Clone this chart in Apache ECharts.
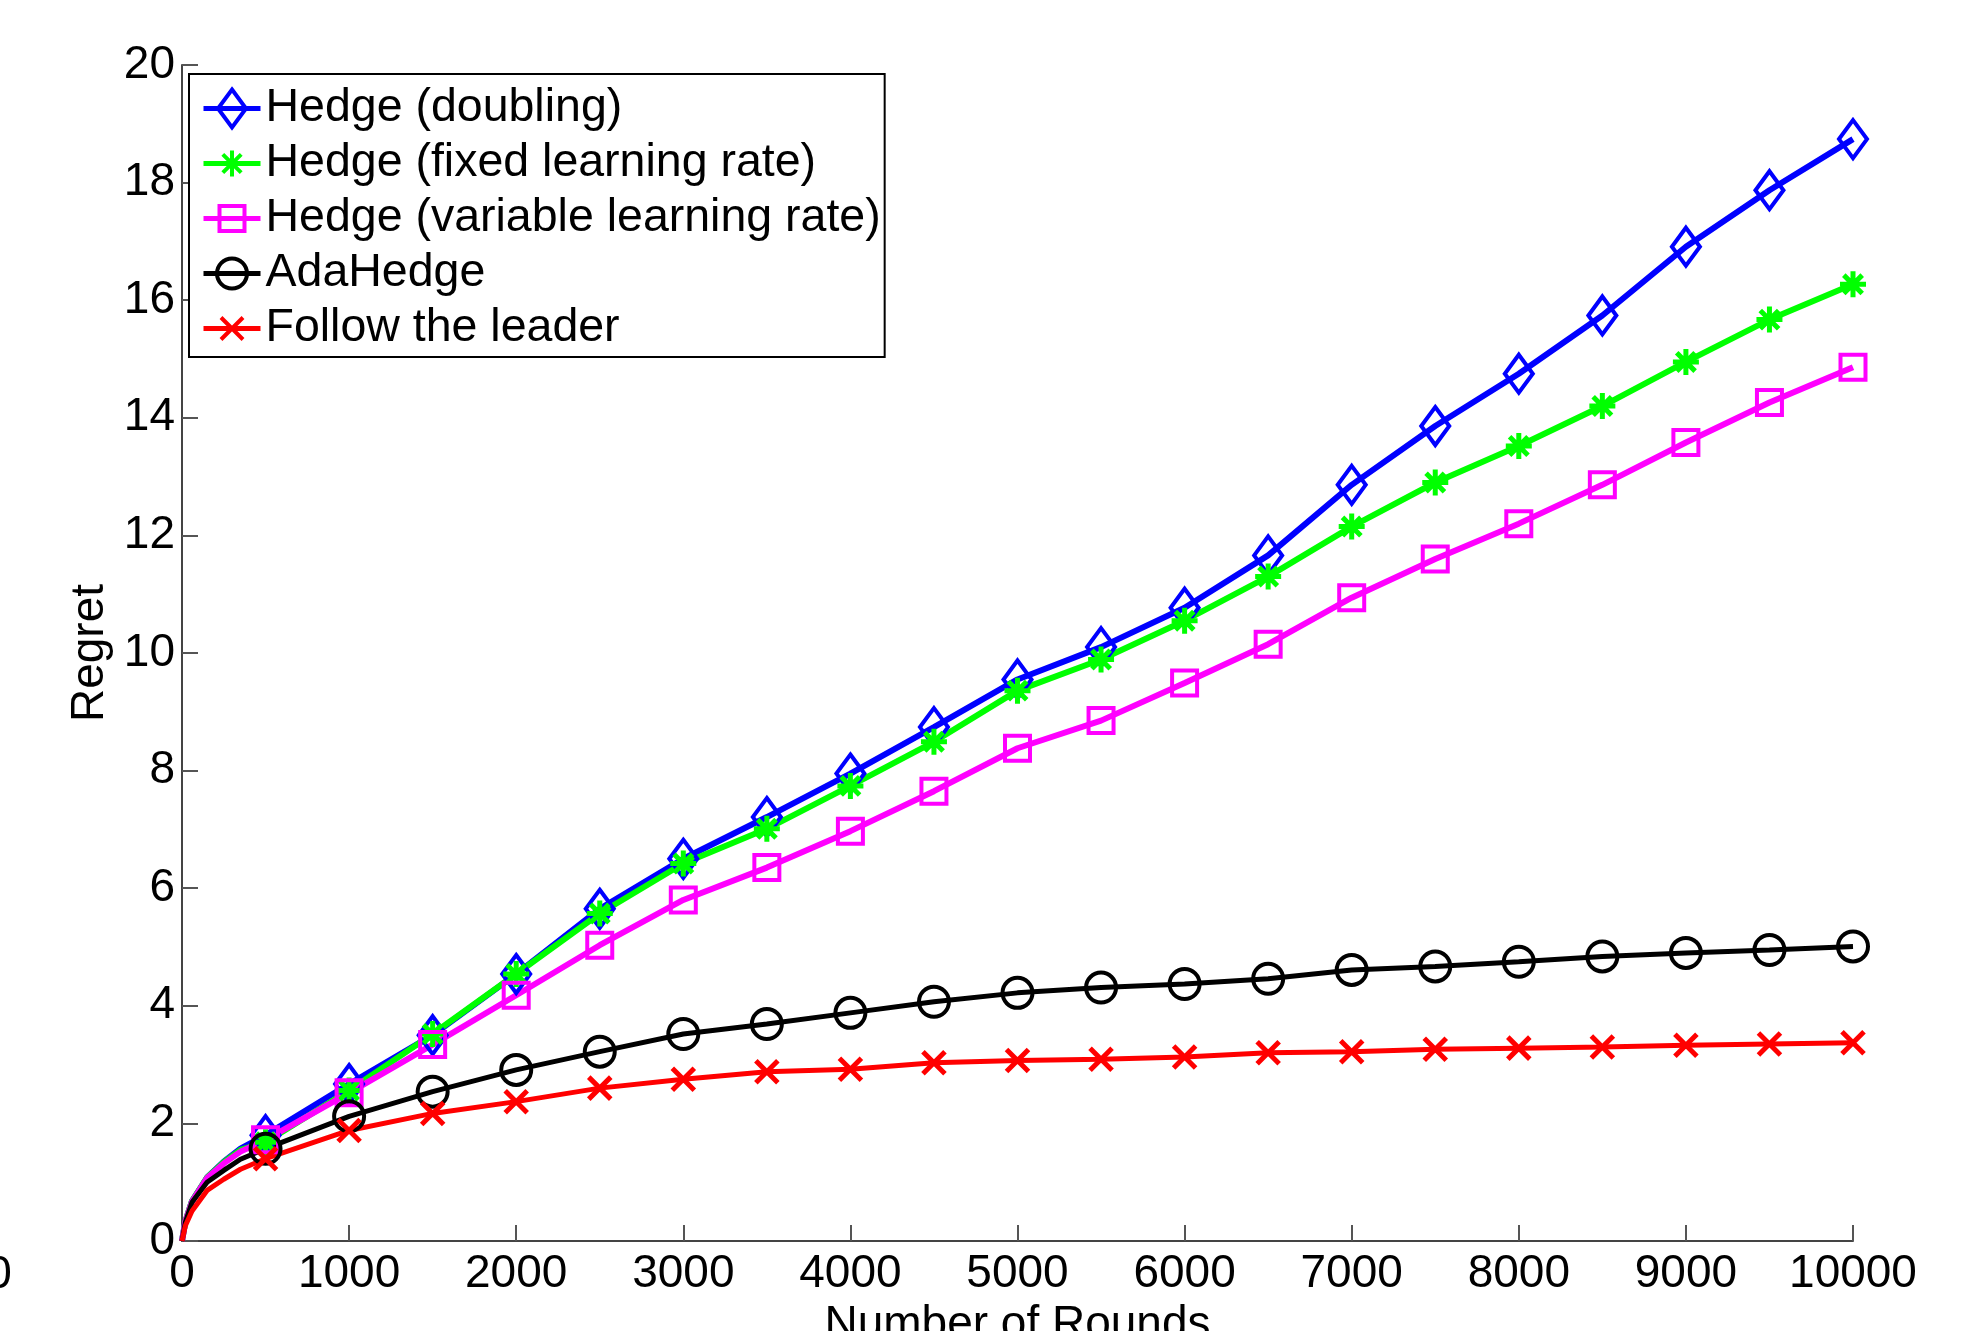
<!DOCTYPE html>
<html>
<head>
<meta charset="utf-8">
<script src="https://cdn.jsdelivr.net/npm/echarts@6/dist/echarts.min.js"></script>
<style>
html,body{margin:0;padding:0;background:#fff;}
#chart{width:1966px;height:1331px;}
</style>
</head>
<body>
<div id="chart"></div>
<script>
// ---- data ----
const rounds = [0, 20, 60, 150, 250, 350,
  500, 1000, 1500, 2000, 2500, 3000, 3500, 4000, 4500, 5000,
  5500, 6000, 6500, 7000, 7500, 8000, 8500, 9000, 9500, 10000];
const markerRounds = [500, 1000, 1500, 2000, 2500, 3000, 3500, 4000, 4500, 5000,
  5500, 6000, 6500, 7000, 7500, 8000, 8500, 9000, 9500, 10000];

const seriesNames = ['Hedge (doubling)', 'Hedge (fixed learning rate)',
  'Hedge (variable learning rate)', 'AdaHedge', 'Follow the leader'];

const hedgeDoubling = [0, 0.33, 0.68, 1.08, 1.35, 1.57,
  1.80, 2.67, 3.50, 4.54, 5.65, 6.50, 7.21, 7.95, 8.74, 9.55,
  10.10, 10.77, 11.66, 12.86, 13.86, 14.75, 15.74, 16.91, 17.87, 18.74];
const hedgeFixed = [0, 0.33, 0.68, 1.08, 1.34, 1.55,
  1.68, 2.56, 3.52, 4.54, 5.57, 6.42, 7.01, 7.74, 8.49, 9.36,
  9.89, 10.55, 11.30, 12.15, 12.90, 13.52, 14.20, 14.95, 15.67, 16.27];
const hedgeVariable = [0, 0.33, 0.67, 1.07, 1.32, 1.52,
  1.72, 2.52, 3.34, 4.18, 5.03, 5.80, 6.35, 6.97, 7.65, 8.38,
  8.85, 9.49, 10.15, 10.94, 11.60, 12.20, 12.86, 13.58, 14.26, 14.86];
const adaHedge = [0, 0.32, 0.66, 1.00, 1.20, 1.39,
  1.57, 2.12, 2.54, 2.91, 3.22, 3.52, 3.69, 3.88, 4.07, 4.22,
  4.31, 4.37, 4.46, 4.61, 4.67, 4.75, 4.84, 4.90, 4.95, 5.01];
const followLeader = [0, 0.26, 0.51, 0.86, 1.05, 1.22,
  1.40, 1.88, 2.17, 2.37, 2.60, 2.75, 2.88, 2.92, 3.03, 3.07,
  3.09, 3.13, 3.20, 3.22, 3.26, 3.28, 3.30, 3.33, 3.35, 3.37];

const xTicks = [0, 1000, 2000, 3000, 4000, 5000, 6000, 7000, 8000, 9000, 10000];
const yTicks = [0, 2, 4, 6, 8, 10, 12, 14, 16, 18, 20];

// ---- build ----
const FONT = 'Liberation Sans';
function build(values) {
  return rounds.map((r, i) => {
    const item = { value: [r, values[i]] };
    if (markerRounds.indexOf(r) < 0) item.symbol = 'none';
    return item;
  });
}
// marker glyphs drawn inside a common 38x38 box (the leading moves fix the box)
const BOX = 'M0,0M38,38';
const SYM_DIAMOND = 'path://' + BOX + 'M19,0L33,19L19,38L5,19Z';
const SYM_ASTERISK = 'path://' + BOX + 'M19,6L19,32M6,19L32,19M9.8,9.8L28.2,28.2M28.2,9.8L9.8,28.2';
const SYM_SQUARE = 'path://' + BOX + 'M6.5,6.5L31.5,6.5L31.5,31.5L6.5,31.5Z';
const SYM_CIRCLE = 'path://' + BOX + 'M4,19A15,15,0,1,1,34,19A15,15,0,1,1,4,19Z';
const SYM_CROSS = 'path://' + BOX + 'M8,8L30,30M30,8L8,30';
const SYMBOL_BOX = 38;

function mk(name, values, color, symbol, bw, lw) {
  return {
    name: name,
    type: 'line',
    data: build(values),
    symbol: symbol,
    symbolSize: SYMBOL_BOX,
    showSymbol: true,
    showAllSymbol: true,
    lineStyle: { color: color, width: lw },
    itemStyle: { color: 'rgba(255,255,255,0)', borderColor: color, borderWidth: bw },
    emphasis: { disabled: true },
    silent: true,
    z: 2
  };
}

const chart = echarts.init(document.getElementById('chart'), null, { renderer: 'canvas' });
chart.setOption({
  animation: false,
  backgroundColor: '#fff',
  textStyle: { fontFamily: FONT },
  grid: { left: 182, right: 113, top: 65, bottom: 90, containLabel: false, outerBoundsMode: 'none' },
  xAxis: {
    type: 'value', min: 0, max: 10000, interval: 1000,
    name: 'Number of Rounds', nameLocation: 'middle', nameGap: 50,
    nameTextStyle: { fontSize: 46, color: '#000', fontFamily: FONT },
    axisLine: { show: true, onZero: false, lineStyle: { color: '#444', width: 2 } },
    axisTick: { show: true, inside: true, length: 16, lineStyle: { color: '#555', width: 2 } },
    axisLabel: { fontSize: 46, color: '#000', margin: 10, fontFamily: FONT,
      formatter: v => (xTicks.indexOf(v) >= 0 ? String(v) : '') },
    splitLine: { show: false }
  },
  yAxis: {
    type: 'value', min: 0, max: 20, interval: 2,
    name: 'Regret', nameLocation: 'middle', nameGap: 69, nameRotate: 90,
    nameTextStyle: { fontSize: 46, color: '#000', fontFamily: FONT },
    axisLine: { show: true, lineStyle: { color: '#444', width: 2 } },
    axisTick: { show: true, inside: true, length: 16, lineStyle: { color: '#555', width: 2 } },
    axisLabel: { fontSize: 46, color: '#000', margin: 7, fontFamily: FONT,
      formatter: v => (yTicks.indexOf(v) >= 0 ? String(v) : '') },
    splitLine: { show: false }
  },
  legend: {
    orient: 'vertical', left: 189, top: 74,
    itemWidth: 57, itemHeight: 47.5, itemGap: 8,
    padding: [11, 4, 5, 12],
    borderColor: '#000', borderWidth: 2, borderRadius: 0,
    backgroundColor: '#fff',
    selectedMode: false,
    lineStyle: { width: 5 },
    itemStyle: { borderWidth: 4 },
    textStyle: { fontSize: 46.5, color: '#000', fontFamily: FONT },
    data: seriesNames
  },
  graphic: [{
    type: 'text', x: -1, y: 1275, silent: true,
    style: { text: '0', font: '46px "Liberation Sans"', fill: '#000',
      textAlign: 'center', textVerticalAlign: 'middle' }
  }],
  series: [
    mk(seriesNames[0], hedgeDoubling, '#0000ff', SYM_DIAMOND, 4, 6),
    mk(seriesNames[1], hedgeFixed, '#00ff00', SYM_ASTERISK, 5, 6),
    mk(seriesNames[2], hedgeVariable, '#ff00ff', SYM_SQUARE, 4, 6),
    mk(seriesNames[3], adaHedge, '#000000', SYM_CIRCLE, 4, 5),
    mk(seriesNames[4], followLeader, '#ff0000', SYM_CROSS, 5, 5)
  ]
});
</script>
</body>
</html>
